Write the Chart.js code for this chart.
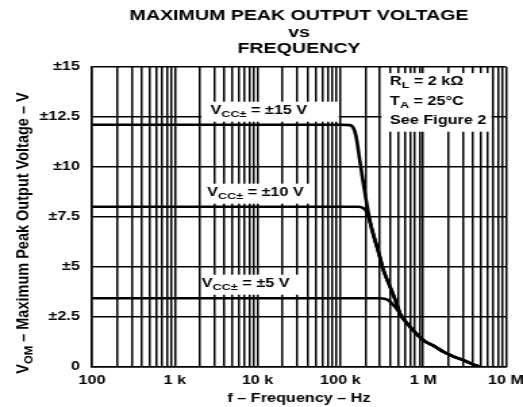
<!DOCTYPE html>
<html>
<head>
<meta charset="utf-8">
<script src="https://cdn.jsdelivr.net/npm/chart.js@4/dist/chart.umd.min.js"></script>
<style>
  body { margin: 0; background: #fff; overflow: hidden; }
  /* the sheet is drawn narrow, then widened like the printed datasheet */
  #wrap { width: 387px; height: 407px; transform: scaleX(1.3514); transform-origin: 0 0; }
</style>
</head>
<body>
<div id="wrap"><canvas id="c" width="387" height="407"></canvas></div>
<script>
// frequency axis (Hz)
const decadeTicks = [100, 1e3, 1e4, 1e5, 1e6, 1e7];
const decadeLabels = ['100', '1 k', '10 k', '100 k', '1 M', '10 M'];
const voltTicks = [0, 2.5, 5, 7.5, 10, 12.5, 15];

// VCC = ±15 V
const freqHi = [100, 1e3, 1e4, 1e5, 131e3, 145e3, 154e3, 176e3, 208e3, 239e3, 290e3, 330e3, 371e3, 420e3, 478e3, 525e3, 600e3, 693e3, 1e6, 1.4e6, 1.75e6, 2.3e6, 3.05e6, 4e6, 4.85e6];
const voutHi = [12.1, 12.1, 12.1, 12.1, 12.08, 11.9, 11.55, 10.0, 8.15, 6.9, 5.7, 4.85, 4.3, 3.75, 3.15, 2.65, 2.3, 2.0, 1.33, 1.0, 0.75, 0.52, 0.33, 0.12, 0];

// VCC = ±10 V
const freqMid = [100, 1e3, 1e4, 1e5, 165e3, 190e3, 210e3, 239e3, 290e3, 330e3, 371e3, 420e3, 478e3, 525e3, 600e3, 693e3, 1e6, 1.4e6, 1.75e6, 2.3e6, 3.05e6, 4e6, 4.85e6];
const voutMid = [8.0, 8.0, 8.0, 8.0, 8.0, 7.92, 7.7, 6.9, 5.7, 4.85, 4.3, 3.75, 3.15, 2.65, 2.3, 2.0, 1.33, 1.0, 0.75, 0.52, 0.33, 0.12, 0];

// VCC = ±5 V
const freqLo = [100, 1e3, 1e4, 1e5, 300e3, 340e3, 380e3, 417e3, 470e3, 525e3, 600e3, 693e3, 1e6, 1.4e6, 1.75e6, 2.3e6, 3.05e6, 4e6, 4.85e6];
const voutLo = [3.42, 3.42, 3.42, 3.42, 3.42, 3.4, 3.32, 3.17, 2.93, 2.65, 2.3, 2.0, 1.33, 1.0, 0.75, 0.52, 0.33, 0.12, 0];

const FONT = '"Liberation Sans", Arial, Helvetica, sans-serif';
const INK = '#000';
const GRID = '#000';

// every 1..9 step inside each decade gets a grid line
const gridFreqs = [];
decadeTicks.forEach((d, i) => {
  if (i === decadeTicks.length - 1) { gridFreqs.push(d); return; }
  for (let m = 1; m <= 9; m++) gridFreqs.push(m * d);
});

const toPoints = (xs, ys) => xs.map((x, i) => ({ x: x, y: ys[i] }));

// text blocks sitting on white patches inside the plot (freq / volts)
const notes = [
  { f0: 2e3, f1: 1e5, v0: 12.25, v1: 13.25, fx: 2.7e3,
    lines: [[{ t: 'V' }, { t: 'CC±', sub: true }, { t: ' = ±15 V' }]] },
  { f0: 2e3, f1: 5e4, v0: 8.15, v1: 9.15, fx: 2.45e3,
    lines: [[{ t: 'V' }, { t: 'CC±', sub: true }, { t: ' = ±10 V' }]] },
  { f0: 2e3, f1: 4e4, v0: 3.6, v1: 4.6, fx: 2.12e3,
    lines: [[{ t: 'V' }, { t: 'CC±', sub: true }, { t: ' = ±5 V' }]] },
  { f0: 3e5, f1: 7e6, v0: 11.75, v1: 14.68, fx: 3.97e5,
    lines: [
      [{ t: 'R' }, { t: 'L', sub: true }, { t: ' = 2 kΩ' }],
      [{ t: 'T' }, { t: 'A', sub: true }, { t: ' = 25°C' }],
      [{ t: 'See Figure 2' }]
    ] }
];

function richWidth(ctx, parts, size) {
  let w = 0;
  parts.forEach(p => {
    ctx.font = `bold ${p.sub ? size * 0.78 : size}px ${FONT}`;
    w += ctx.measureText(p.t).width;
  });
  return w;
}

function drawRich(ctx, x, y, parts, size) {
  parts.forEach(p => {
    const fs = p.sub ? size * 0.78 : size;
    ctx.font = `bold ${fs}px ${FONT}`;
    ctx.fillText(p.t, x, p.sub ? y + size * 0.3 : y);
    x += ctx.measureText(p.t).width;
  });
}

const sheetText = {
  id: 'sheetText',
  beforeDatasetsDraw(chart) {
    const ctx = chart.ctx;
    const xs = chart.scales.x, ys = chart.scales.y;
    ctx.save();
    ctx.textBaseline = 'middle';
    ctx.textAlign = 'left';
    notes.forEach(n => {
      const l = xs.getPixelForValue(n.f0) + 1.2, r = xs.getPixelForValue(n.f1) - 1.2;
      const t = ys.getPixelForValue(n.v1), b = ys.getPixelForValue(n.v0);
      ctx.fillStyle = '#fff';
      ctx.fillRect(l, t, r - l, b - t);
      ctx.fillStyle = INK;
      const step = (b - t) / n.lines.length;
      n.lines.forEach((parts, i) => {
        drawRich(ctx, xs.getPixelForValue(n.fx), t + step * (i + 0.5) - 1, parts, 12);
      });
    });
    ctx.restore();
  },
  afterDraw(chart) {
    const ctx = chart.ctx;
    const area = chart.chartArea;
    const cx = (area.left + area.right) / 2;
    ctx.save();
    ctx.fillStyle = INK;
    ctx.textAlign = 'center';
    ctx.textBaseline = 'alphabetic';
    ctx.font = `bold 14.5px ${FONT}`;
    ctx.fillText('MAXIMUM PEAK OUTPUT VOLTAGE', cx, 20);
    ctx.fillText('vs', cx, 37);
    ctx.fillText('FREQUENCY', cx, 53);

    ctx.textBaseline = 'middle';
    ctx.font = `bold 12px ${FONT}`;
    ctx.fillText('f – Frequency – Hz', cx, 399);

    // rotated axis title with subscript, glyphs a little narrowed
    const yTitle = [{ t: 'V' }, { t: 'OM', sub: true }, { t: ' – Maximum Peak Output Voltage – V' }];
    ctx.textAlign = 'left';
    ctx.translate(17.6, 233);
    ctx.rotate(-Math.PI / 2);
    ctx.scale(1, 0.82);
    const w = richWidth(ctx, yTitle, 14.5);
    drawRich(ctx, -w / 2, 0, yTitle, 14.5);
    ctx.restore();
  }
};

const lineStyle = {
  borderColor: '#000',
  borderWidth: 2.6,
  pointRadius: 0,
  fill: false,
  cubicInterpolationMode: 'monotone'
};

new Chart(document.getElementById('c'), {
  type: 'line',
  data: {
    datasets: [
      { label: '±15 V', data: toPoints(freqHi, voutHi), ...lineStyle },
      { label: '±10 V', data: toPoints(freqMid, voutMid), ...lineStyle },
      { label: '±5 V', data: toPoints(freqLo, voutLo), ...lineStyle }
    ]
  },
  options: {
    responsive: false,
    animation: false,
    layout: { padding: { top: 66.7, right: 12.6, left: 0, bottom: 0 } },
    plugins: { legend: { display: false }, tooltip: { enabled: false } },
    scales: {
      x: {
        type: 'logarithmic',
        min: 100,
        max: 1e7,
        afterBuildTicks: s => { s.ticks = gridFreqs.map(v => ({ value: v })); },
        afterFit: s => { s.height = 40.3; s.paddingLeft = 0; s.paddingRight = 0; },
        grid: { color: GRID, lineWidth: 1.5, drawTicks: false },
        border: { color: GRID, width: 1.5 },
        ticks: {
          autoSkip: false,
          maxRotation: 0,
          padding: 7,
          color: INK,
          font: { family: FONT, size: 12, weight: 'bold' },
          callback: v => {
            const i = decadeTicks.indexOf(v);
            return i >= 0 ? decadeLabels[i] : '';
          }
        }
      },
      y: {
        type: 'linear',
        min: 0,
        max: 15,
        afterBuildTicks: s => { s.ticks = voltTicks.map(v => ({ value: v })); },
        afterFit: s => { s.width = 68.1; s.paddingTop = 0; s.paddingBottom = 0; },
        grid: { color: GRID, lineWidth: 1.4, drawTicks: false },
        border: { color: GRID, width: 1.5 },
        ticks: {
          padding: 9,
          color: INK,
          font: { family: FONT, size: 12, weight: 'bold' },
          callback: v => (v === 0 ? '0' : '±' + v)
        }
      }
    }
  },
  plugins: [sheetText]
});
</script>
</body>
</html>
